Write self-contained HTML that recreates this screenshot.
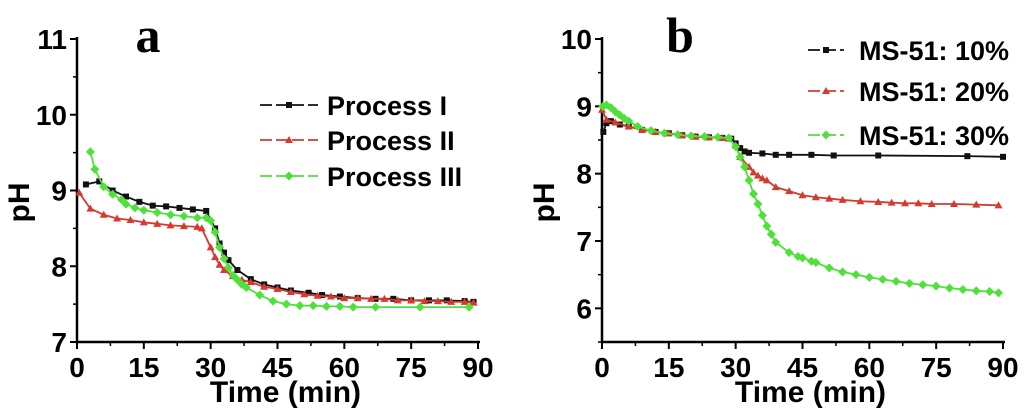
<!DOCTYPE html>
<html><head><meta charset="utf-8"><style>
body{margin:0;background:#fff;}
svg{display:block;font-family:"Liberation Sans",sans-serif;font-weight:bold;}
</style></head><body>
<svg id="c" width="1024" height="419" viewBox="0 0 1024 419"></svg>
<script>
const ticksX=[0,15,30,45,60,75,90];
const ticksYA=[7,8,9,10,11];
const ticksYB=[6,7,8,9,10];
const a1T=[2,5,8,11,14,17,20,23,26,29,31,32,33,34,36,39,42,45,48,52,55,59,63,67,71,75,79,83,87,89];
const a1V=[9.08,9.12,9.0,8.92,8.85,8.8,8.79,8.77,8.75,8.73,8.5,8.3,8.18,8.08,7.95,7.83,7.76,7.72,7.68,7.65,7.62,7.6,7.58,7.57,7.57,7.55,7.55,7.55,7.54,7.53];
const a2T=[0.5,3,6,9,12,15,18,21,24,27,28,30,31,32,33,35,37,39,42,45,48,51,54,57,60,63,66,69,72,75,78,81,84,87,89];
const a2V=[8.97,8.76,8.68,8.63,8.61,8.58,8.56,8.54,8.53,8.52,8.5,8.25,8.12,8.02,7.95,7.87,7.82,7.79,7.73,7.7,7.66,7.63,7.61,7.6,7.58,7.58,7.57,7.57,7.55,7.55,7.54,7.54,7.53,7.53,7.52];
const a3T=[3,4,6,8,10,11,13,15,18,21,24,27,29,30,31,32,33,34,35,36,37,38,41,44,47,50,53,56,59,62,67,77,88];
const a3V=[9.51,9.28,9.05,8.95,8.88,8.82,8.77,8.74,8.71,8.68,8.66,8.64,8.64,8.6,8.45,8.25,8.1,7.98,7.88,7.82,7.76,7.72,7.62,7.54,7.5,7.48,7.48,7.47,7.47,7.46,7.46,7.46,7.46];
const b1T=[0.3,1,2,4,6,9,12,15,18,21,24,27,29,30,31,32,33,36,39,42,47,52,62,82,90];
const b1V=[8.62,8.75,8.78,8.73,8.7,8.65,8.62,8.6,8.57,8.55,8.54,8.53,8.52,8.45,8.38,8.33,8.31,8.3,8.28,8.28,8.28,8.27,8.27,8.26,8.25];
const b2T=[0,1,3,6,9,12,15,18,21,24,27,28.5,30,31,33,34,35,36,37,39,42,45,48,51,54,58,62,65,68,71,74,79,84,89];
const b2V=[8.95,8.8,8.76,8.7,8.65,8.62,8.6,8.57,8.55,8.54,8.53,8.52,8.42,8.25,8.1,8.02,7.97,7.93,7.9,7.8,7.74,7.68,7.65,7.63,7.61,7.59,7.58,7.57,7.56,7.56,7.55,7.55,7.54,7.53];
const b3T=[0.2,1,2,3,4,5,6,8,11,14,17,20,23,26,28.5,30,31,32,33,34,35,36,37,38,39,42,44,45,47,48,51,54,57,60,63,66,69,72,75,78,81,84,87,89];
const b3V=[9.0,9.02,8.98,8.92,8.87,8.82,8.78,8.7,8.64,8.6,8.58,8.56,8.55,8.54,8.53,8.4,8.25,8.1,7.9,7.7,7.55,7.38,7.22,7.1,6.98,6.83,6.77,6.75,6.7,6.68,6.6,6.54,6.5,6.46,6.43,6.4,6.37,6.35,6.33,6.3,6.28,6.26,6.25,6.23];

const svg=document.getElementById('c');
const NS='http://www.w3.org/2000/svg';
function mk(tag,at,parent){const e=document.createElementNS(NS,tag);for(const k in at)e.setAttribute(k,at[k]);(parent||svg).appendChild(e);return e;}
function txt(s,at,name){const e=mk('text',at);e.textContent=s;


return e;}
const BLACK='#111',RED='#d43a2f',GREEN='#4fe03a';
function marker(g,type,x,y,col){
  let m;
  if(type==='sq') m=mk('rect',{x:x-3,y:y-3,width:6,height:6,fill:col},g);
  else if(type==='tri') m=mk('polygon',{points:`${x},${y-4} ${x-4},${y+3} ${x+4},${y+3}`,fill:col},g);
  else m=mk('polygon',{points:`${x},${y-4.5} ${x+4.5},${y} ${x},${y+4.5} ${x-4.5},${y}`,fill:col},g);
  
  
}
function panel(p){
  const sx=t=>p.x0+(t-0)/90*(p.x1-p.x0);
  const sy=v=>p.yb+(v-p.ymin)/(p.ymax-p.ymin)*(p.yt-p.yb);
  const g=mk('g',{});
  
  
  const ax=mk('path',{d:`M${p.x0},${p.yt-2} V${p.yb} H${p.x1+2}`,stroke:'#000','stroke-width':2.5,fill:'none'},g);
  
  
  ticksX.forEach(t=>{mk('line',{x1:sx(t),x2:sx(t),y1:p.yb,y2:p.yb+7,stroke:'#000','stroke-width':2},g);
    if(t<90) mk('line',{x1:sx(t+7.5),x2:sx(t+7.5),y1:p.yb,y2:p.yb+4,stroke:'#000','stroke-width':1.5},g);
    txt(String(t),{x:sx(t),y:p.yb+35,'font-size':28,'text-anchor':'middle'},'x-tick-label');});
  p.ticksY.forEach(v=>{mk('line',{x1:p.x0-7,x2:p.x0,y1:sy(v),y2:sy(v),stroke:'#000','stroke-width':2},g);
    txt(String(v),{x:p.x0-10,y:sy(v)+10,'font-size':28,'text-anchor':'end'},'y-tick-label');});
  for(let v=p.ymin;v<p.ymax;v+=0.5){ if(!p.ticksY.includes(v)) mk('line',{x1:p.x0-4,x2:p.x0,y1:sy(v),y2:sy(v),stroke:'#000','stroke-width':1.5},g);}
  txt('Time (min)',{x:(p.x0+p.x1)/2+8,y:p.yb+60,'font-size':30,'text-anchor':'middle'},'x-axis-title');
  txt('pH',{x:0,y:0,'font-size':30,'text-anchor':'middle',transform:`translate(${p.x0-48},${(p.yt+p.yb)/2+12}) rotate(-90)`},'y-axis-title');
  txt(p.letter,{x:p.lx,y:52,'font-size':50,'font-family':'"Liberation Serif",serif','text-anchor':'middle'},'panel-label');
  p.series.forEach((s,i)=>{
    const sg=mk('g',{},g);
    
    
    const pts=s.T.map((t,j)=>sx(t)+','+sy(s.V[j])).join(' ');
    mk('polyline',{points:pts,fill:'none',stroke:s.col,'stroke-width':1.8},sg);
    s.T.forEach((t,j)=>marker(sg,s.m,sx(t),sy(s.V[j]),s.col));
    const ly=p.legY[i];
    const lg=mk('g',{},g);
    
    
    mk('line',{x1:p.legX,x2:p.legX+p.legW,y1:ly,y2:ly,stroke:s.col,'stroke-width':1.8,'stroke-dasharray':'12 4'},lg);
    marker(lg,s.m,p.legX+p.legW/2,ly,s.col);
    const t=mk('text',{x:p.legX+p.legW+p.gap,y:ly+10,'font-size':27},lg);t.textContent=s.label;
  });
}
panel({name:'panel-a',letter:'a',lx:148,x0:77,x1:478,yt:39,yb:342,ymin:7,ymax:11,ticksY:ticksYA,legX:260,legW:58,gap:9,legY:[105,140,176],
 series:[{label:'Process I',T:a1T,V:a1V,col:BLACK,m:'sq'},{label:'Process II',T:a2T,V:a2V,col:RED,m:'tri'},{label:'Process III',T:a3T,V:a3V,col:GREEN,m:'dia'}]});
panel({name:'panel-b',letter:'b',lx:680,x0:602,x1:1003,yt:39,yb:342,ymin:5.5,ymax:10,ticksY:ticksYB,legX:808,legW:36,gap:15,legY:[50,91,135],
 series:[{label:'MS-51: 10%',T:b1T,V:b1V,col:BLACK,m:'sq'},{label:'MS-51: 20%',T:b2T,V:b2V,col:RED,m:'tri'},{label:'MS-51: 30%',T:b3T,V:b3V,col:GREEN,m:'dia'}]});
</script>
</body></html>
